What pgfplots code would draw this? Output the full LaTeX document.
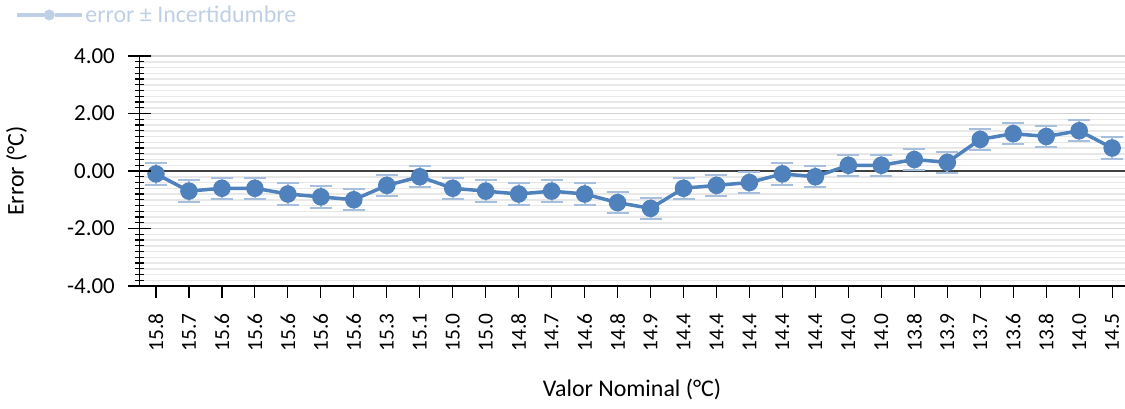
\documentclass[border=0pt]{standalone}
\usepackage{fontspec}
\setmainfont{Carlito}
\usepackage{pgfplots}
\pgfplotsset{compat=1.18}
\definecolor{lineblue}{HTML}{4F81BD}
\definecolor{errblue}{HTML}{A7BFDE}
\definecolor{legblue}{HTML}{BFCFE6}
\definecolor{majgrid}{HTML}{D4D4D4}
\definecolor{mingrid}{HTML}{E8E8E8}
\begin{document}
\begin{tikzpicture}
\begin{axis}[
  at={(0,0)}, anchor=south west,
  scale only axis, width=985.5bp, height=230bp,
  xmin=-0.5, xmax=29.39, ymin=-4, ymax=4,
  axis lines*=left,
  axis line style={black, line width=1.2bp},
  font=\fontsize{24}{28}\selectfont,
  /pgf/number format/assume math mode=true,
  ytick={-4,-2,0,2,4},
  yticklabels={},
  minor y tick num=9,
  ytick style={draw=none},
  xtick={0,...,29},
  xticklabels={15.8,15.7,15.6,15.6,15.6,15.6,15.6,15.3,15.1,15.0,15.0,14.8,14.7,14.6,14.8,14.9,14.4,14.4,14.4,14.4,14.4,14.0,14.0,13.8,13.9,13.7,13.6,13.8,14.0,14.5},
  xtick align=outside,
  major tick length=12bp,
  xtick style={black, line width=1.2bp},
  ymajorgrids, yminorgrids,
  major grid style={majgrid, line width=1.5bp},
  minor grid style={mingrid, line width=1.5bp},
  extra y ticks={0},
  extra y tick labels={},
  extra y tick style={grid=major, major grid style={black!75, line width=1.3bp}, tick style={draw=none}},
  xticklabel style={inner sep=0pt, rotate=90, anchor=east, font=\fontsize{21.5}{25}\selectfont},
  xticklabel shift=15bp,
  xlabel={Valor Nominal (°C)},
  ylabel={Error (°C)},
  xlabel style={at={(axis description cs:0.4998,-0.4478)}, anchor=center},
  ylabel style={at={(axis description cs:-0.1248,0.5)}, anchor=center},
  legend style={at={(axis description cs:-0.1264,1.1783)}, anchor=west, draw=none, fill=none, inner sep=0pt, text=legblue,
    legend cell align=left},
  legend image code/.code={\draw[line width=3.3bp, legblue] (0bp,0bp) -- (27bp,0bp); \draw[line width=3.3bp, legblue] (38bp,0bp) -- (65bp,0bp); \fill[legblue] (32.5bp,0bp) circle (3.6bp);},
]
\addplot[lineblue, line width=3.5bp, mark=*, mark size=7bp, mark options={solid, fill=lineblue, draw=lineblue},
  error bars/.cd, y dir=both, y fixed=0.37,
  error bar style={errblue, line width=2bp},
  error mark options={errblue, rotate=90, mark size=11bp, line width=2bp}]
coordinates {
(0,-0.1) (1,-0.7) (2,-0.6) (3,-0.6) (4,-0.8) (5,-0.9) (6,-1.0) (7,-0.5) (8,-0.2) (9,-0.6)
(10,-0.7) (11,-0.8) (12,-0.7) (13,-0.8) (14,-1.1) (15,-1.3) (16,-0.6) (17,-0.5) (18,-0.4) (19,-0.1)
(20,-0.2) (21,0.2) (22,0.2) (23,0.4) (24,0.3) (25,1.1) (26,1.3) (27,1.2) (28,1.4) (29,0.8)
};
\addlegendentry{error ± Incertidumbre}
\end{axis}
\begin{axis}[
  at={(0,0)}, anchor=south west,
  scale only axis, width=985.5bp, height=230bp,
  xmin=-0.5, xmax=29.39, ymin=-4, ymax=4,
  axis x line=none, axis y line*=left,
  axis line style={black, line width=1.2bp},
  font=\fontsize{23}{27}\selectfont,
  /pgf/number format/assume math mode=true,
  xtick=\empty,
  ytick={-4,-2,0,2,4},
  yticklabel={\pgfmathprintnumber[fixed,fixed zerofill,precision=2]{\tick}},
  minor y tick num=9,
  ytick align=center,
  major tick length=23bp, minor tick length=9bp,
  ytick style={black, line width=1.2bp},
  yticklabel style={inner sep=0pt, anchor=east},
  yticklabel shift=13bp,
]
\end{axis}
\pgfresetboundingbox
\useasboundingbox (-139.5bp,-123bp) rectangle (985.5bp,286bp);
\end{tikzpicture}
\end{document}
